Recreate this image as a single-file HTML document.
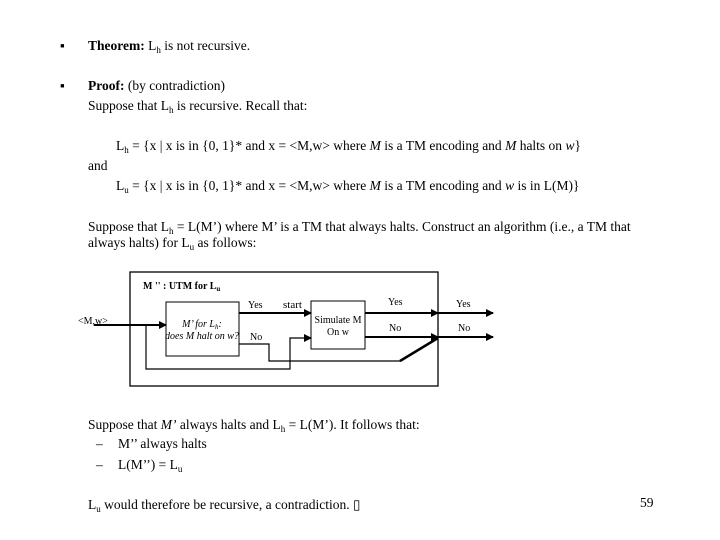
<!DOCTYPE html>
<html><head><meta charset="utf-8"><style>
html,body{margin:0;padding:0;background:#fff;}
svg{display:block;}
text{font-family:"Liberation Serif",serif;fill:#000;}
</style></head><body>
<svg width="720" height="540" viewBox="0 0 720 540" xmlns="http://www.w3.org/2000/svg">
<defs><marker id="a" markerWidth="8" markerHeight="8" refX="7" refY="4" orient="auto" markerUnits="userSpaceOnUse"><path d="M0,0 L8,4 L0,8 z" fill="#000"/></marker></defs>
<g font-size="13.5">
<text x="60" y="50">▪</text>
<text x="88" y="50"><tspan font-weight="bold">Theorem:</tspan> L<tspan font-size="9" dy="3">h</tspan><tspan dy="-3"> is not recursive.</tspan></text>
<text x="60" y="90">▪</text>
<text x="88" y="90"><tspan font-weight="bold">Proof:</tspan> (by contradiction)</text>
<text x="88" y="110">Suppose that L<tspan font-size="9" dy="3">h</tspan><tspan dy="-3"> is recursive. Recall that:</tspan></text>
<text x="116" y="150">L<tspan font-size="9" dy="3">h</tspan><tspan dy="-3"> = {x | x is in {0, 1}* and x = &lt;M,w&gt; where </tspan><tspan font-style="italic">M</tspan> is a TM encoding and <tspan font-style="italic">M</tspan> halts on <tspan font-style="italic">w</tspan>}</text>
<text x="88" y="170">and</text>
<text x="116" y="190">L<tspan font-size="9" dy="3">u</tspan><tspan dy="-3"> = {x | x is in {0, 1}* and x = &lt;M,w&gt; where </tspan><tspan font-style="italic">M</tspan> is a TM encoding and <tspan font-style="italic">w</tspan> is in L(M)}</text>
<text x="88" y="231">Suppose that L<tspan font-size="9" dy="3">h</tspan><tspan dy="-3"> = L(M’) where M’ is a TM that always halts. Construct an algorithm (i.e., a TM that</tspan></text>
<text x="88" y="247">always halts) for L<tspan font-size="9" dy="3">u</tspan><tspan dy="-3"> as follows:</tspan></text>
<text x="88" y="429">Suppose that <tspan font-style="italic">M’</tspan> always halts and L<tspan font-size="9" dy="3">h</tspan><tspan dy="-3"> = L(M’).  It follows that:</tspan></text>
<text x="96" y="448">–</text><text x="118" y="448">M’’ always halts</text>
<text x="96" y="469">–</text><text x="118" y="469">L(M’’) = L<tspan font-size="9" dy="3">u</tspan></text>
<text x="88" y="509">L<tspan font-size="9" dy="3">u</tspan><tspan dy="-3"> would therefore be recursive, a contradiction. ▯</tspan></text>
<text x="640" y="507">59</text>
</g>
<g fill="none" stroke="#000">
<rect x="130" y="272" width="308" height="114" stroke-width="1.3"/>
<rect x="166" y="302" width="73" height="54" stroke-width="1"/>
<rect x="311" y="301" width="54" height="48" stroke-width="1"/>
<path d="M94,325 H166" stroke-width="2" marker-end="url(#a)"/>
<path d="M146,325 V369 H290 V338 H311" stroke-width="1.2" marker-end="url(#a)"/>
<path d="M239,313 H311" stroke-width="2" marker-end="url(#a)"/>
<path d="M239,344 H269 V361 H400 L438,338" stroke-width="1.2"/>
<path d="M400,361 L438,338" stroke-width="2.5"/>
<path d="M365,313 H438" stroke-width="2" marker-end="url(#a)"/>
<path d="M438,313 H493" stroke-width="2" marker-end="url(#a)"/>
<path d="M365,337 H438" stroke-width="2" marker-end="url(#a)"/>
<path d="M438,337 H493" stroke-width="2" marker-end="url(#a)"/>
</g>
<g font-size="10">
<text x="143" y="289" font-weight="bold">M '' : UTM for L<tspan font-size="7" dy="2">u</tspan></text>
<text x="78" y="324">&lt;M,w&gt;</text>
<text x="202" y="327" text-anchor="middle" font-style="italic">M’ for L<tspan font-size="7" dy="2">h</tspan><tspan dy="-2">:</tspan></text>
<text x="202" y="339" text-anchor="middle" font-style="italic">does M halt on w?</text>
<text x="248" y="308">Yes</text>
<text x="283" y="308" font-size="11">start</text>
<text x="250" y="340">No</text>
<text x="338" y="323" text-anchor="middle">Simulate M</text>
<text x="338" y="335" text-anchor="middle">On w</text>
<text x="388" y="305">Yes</text>
<text x="389" y="331">No</text>
<text x="456" y="307">Yes</text>
<text x="458" y="331">No</text>
</g>
</svg>
</body></html>
